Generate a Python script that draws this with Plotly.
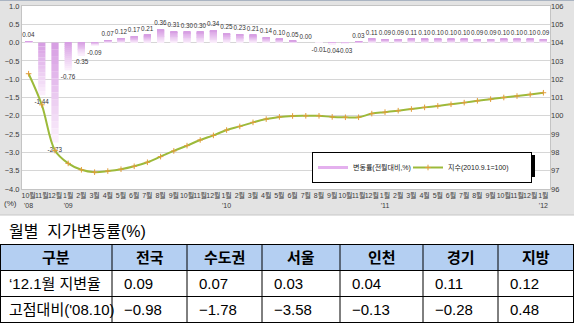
import plotly.graph_objects as go

W, H = 574, 325
FONT = "Liberation Sans, Noto Sans CJK KR, sans-serif"
KFONT = "Liberation Sans, Noto Sans CJK KR, sans-serif"

# ---- monthly land price data, Oct 2008 - Jan 2012 ----
month_keys = [
    "2008-10", "2008-11", "2008-12",
    "2009-01", "2009-02", "2009-03", "2009-04", "2009-05", "2009-06",
    "2009-07", "2009-08", "2009-09", "2009-10", "2009-11", "2009-12",
    "2010-01", "2010-02", "2010-03", "2010-04", "2010-05", "2010-06",
    "2010-07", "2010-08", "2010-09", "2010-10", "2010-11", "2010-12",
    "2011-01", "2011-02", "2011-03", "2011-04", "2011-05", "2011-06",
    "2011-07", "2011-08", "2011-09", "2011-10", "2011-11", "2011-12",
    "2012-01",
]
tick_labels = [
    "10월<br>'08", "11월", "12월",
    "1월<br>'09", "2월", "3월", "4월", "5월", "6월",
    "7월", "8월", "9월", "10월", "11월", "12월",
    "1월<br>'10", "2월", "3월", "4월", "5월", "6월",
    "7월", "8월", "9월", "10월", "11월", "12월",
    "1월<br>'11", "2월", "3월", "4월", "5월", "6월",
    "7월", "8월", "9월", "10월", "11월", "12월",
    "1월<br>'12",
]
# month-on-month change (%)
change_pct = [
    0.04, -1.44, -2.73, -0.76, -0.35, -0.09, 0.07, 0.12, 0.17, 0.21,
    0.36, 0.31, 0.30, 0.30, 0.34, 0.25, 0.23, 0.21, 0.14, 0.10,
    0.05, 0.00, -0.01, -0.04, -0.03, 0.03, 0.11, 0.09, 0.09, 0.11,
    0.10, 0.10, 0.10, 0.10, 0.09, 0.09, 0.10, 0.10, 0.10, 0.09,
]
# land price index (2010.9.1 = 100)
price_index = [
    102.30, 100.60, 98.10, 97.40, 97.05, 96.92, 96.98, 97.08, 97.24, 97.46,
    97.77, 98.08, 98.37, 98.68, 98.93, 99.22, 99.42, 99.64, 99.82, 99.94,
    99.99, 100.00, 100.00, 99.94, 99.92, 99.92, 100.12, 100.20, 100.28, 100.37,
    100.46, 100.54, 100.63, 100.72, 100.82, 100.91, 101.00, 101.08, 101.17, 101.26,
]

# ---- summary table ----
table_header = ["구분", "전국", "수도권", "서울", "인천", "경기", "지방"]
row_labels = ["‘12.1월 지변율", "고점대비('08.10)"]
jan12_change = [0.09, 0.07, 0.03, 0.04, 0.11, 0.12]
vs_peak = [-0.98, -1.78, -3.58, -0.13, -0.28, 0.48]

# table geometry (pixels)
COL_W = [112, 75, 75, 78, 83, 75, 76]
TABLE_TOP = 244
ROW_H = 26


def px(x):
    return x / W


def py(y):
    return 1 - y / H


def fmt(v):
    return f"{v:.2f}".replace("-", "−")


def mix(c1, c2, t):
    r, g, b = (round(a + (b_ - a) * t) for a, b_ in zip(c1, c2))
    return f"rgb({r},{g},{b})"


BAR_TOP = (214, 156, 226)
BAR_BOTTOM = (252, 241, 253)

fig = go.Figure()

# gradient bars: each bar is split into slices shaded from top to bottom
N = 14
for k in range(N):
    bases = [v * k / N for v in change_pct]
    seg = [v / N for v in change_pct]
    colors = []
    for v in change_pct:
        t = (k + 0.5) / N if v < 0 else 1 - (k + 0.5) / N
        colors.append(mix(BAR_TOP, BAR_BOTTOM, t))
    fig.add_trace(go.Bar(
        x=month_keys, y=seg, base=bases,
        marker=dict(color=colors, line=dict(width=0)),
        showlegend=False, hoverinfo="skip",
    ))

# value labels for the bars
fig.add_trace(go.Bar(
    x=month_keys, y=change_pct,
    marker=dict(color="rgba(0,0,0,0)", line=dict(width=0)),
    text=[f"{v:.2f}" for v in change_pct],
    textposition="outside", constraintext="none", cliponaxis=False,
    textfont=dict(size=6.3, color="#333333", family=FONT),
    showlegend=False, hoverinfo="skip",
))

# legend entry for the change series
fig.add_trace(go.Scatter(
    x=[month_keys[0]], y=[None], mode="lines",
    line=dict(color="#e4b0ee", width=3),
    name="변동률(전월대비,%)", legendwidth=50,
))

# price index line on the right axis
fig.add_trace(go.Scatter(
    x=month_keys, y=price_index, yaxis="y2",
    mode="lines+markers",
    line=dict(color="#9cba3a", width=2, shape="spline"),
    marker=dict(symbol="cross-thin", size=4, line=dict(color="#e39c3a", width=1)),
    name="지수(2010.9.1=100)", legendwidth=78,
))

# ---- table drawn with shapes and annotations ----
col_x = [0]
for w in COL_W:
    col_x.append(col_x[-1] + w)
row_y = [TABLE_TOP + i * ROW_H for i in range(4)]

shapes = [
    # white area under the chart panel
    dict(type="rect", xref="paper", yref="paper", x0=0, x1=1, y0=0, y1=py(215),
         fillcolor="white", line=dict(width=0), layer="below"),
    dict(type="line", xref="paper", yref="paper", x0=0, x1=1, y0=py(215), y1=py(215),
         line=dict(color="#c6c6c6", width=1), layer="below"),
    dict(type="line", xref="paper", yref="paper", x0=0, x1=1, y0=py(0.5), y1=py(0.5),
         line=dict(color="#aab4c2", width=1), layer="below"),
    # legend drop shadow
    dict(type="rect", xref="paper", yref="paper",
         x0=px(315), x1=px(535), y0=py(177), y1=py(155),
         fillcolor="black", line=dict(width=0), layer="above"),
    # table header fill
    dict(type="rect", xref="paper", yref="paper",
         x0=0, x1=1, y0=py(row_y[1]), y1=py(row_y[0]),
         fillcolor="#b4cff2", line=dict(width=0), layer="above"),
]
for yy in row_y:
    shapes.append(dict(type="line", xref="paper", yref="paper",
                       x0=0, x1=1, y0=py(yy + 0.5), y1=py(yy + 0.5),
                       line=dict(color="black", width=1), layer="above"))
for xx in col_x:
    xx = min(max(xx, 0.5), W - 0.5)
    shapes.append(dict(type="line", xref="paper", yref="paper",
                       x0=px(xx), x1=px(xx), y0=py(row_y[0]), y1=py(row_y[-1] + 1),
                       line=dict(color="black", width=1), layer="above"))

annotations = [
    dict(text="(%)", xref="paper", yref="paper", x=px(2), y=py(203),
         xanchor="left", yanchor="middle", showarrow=False,
         font=dict(size=8, color="#3a3a3a", family=FONT)),
    dict(text="월별  지가변동률(%)", xref="paper", yref="paper", x=px(7), y=py(231),
         xanchor="left", yanchor="middle", showarrow=False,
         font=dict(size=16, color="black", family=KFONT)),
]
for j, h in enumerate(table_header):
    annotations.append(dict(
        text=f"<b>{h}</b>", xref="paper", yref="paper",
        x=px((col_x[j] + col_x[j + 1]) / 2), y=py(row_y[0] + ROW_H / 2),
        xanchor="center", yanchor="middle", showarrow=False,
        font=dict(size=15, color="black", family=KFONT)))
rows = [[row_labels[0]] + [fmt(v) for v in jan12_change],
        [row_labels[1]] + [fmt(v) for v in vs_peak]]
for r, row in enumerate(rows):
    for j, cell in enumerate(row):
        annotations.append(dict(
            text=cell, xref="paper", yref="paper",
            x=px(col_x[j] + (7 if j == 0 else 10)), y=py(row_y[r + 1] + ROW_H / 2),
            xanchor="left", yanchor="middle", showarrow=False,
            font=dict(size=15, color="black", family=KFONT)))

axis_font = dict(size=7.5, color="#3a3a3a", family=FONT)

fig.update_layout(
    width=W, height=H,
    margin=dict(l=0, r=0, t=0, b=0, autoexpand=False),
    paper_bgcolor="#e3e3e3", plot_bgcolor="white",
    barmode="overlay", bargap=0.45,
    font=dict(family=FONT),
    xaxis=dict(
        domain=[px(22), px(550)], type="category", automargin=False,
        range=[-0.5, len(month_keys) - 0.5], autorange=False,
        tickmode="array", tickvals=month_keys, ticktext=tick_labels,
        tickangle=0, tickfont=dict(size=7, color="#3a3a3a", family=FONT), ticks="",
        showgrid=False, showline=True, linecolor="#c4c4c4", mirror=True,
    ),
    yaxis=dict(
        domain=[py(189), py(6)], range=[-4, 1], dtick=0.5, tick0=0,
        automargin=False, tickformat=".1f", tickfont=axis_font, ticks="",
        gridcolor="#d6d6d6", zeroline=False,
        showline=True, linecolor="#c4c4c4", mirror=True,
    ),
    yaxis2=dict(
        overlaying="y", side="right", range=[96, 106], dtick=1, automargin=False,
        tickfont=axis_font, ticks="", showgrid=False, zeroline=False,
    ),
    legend=dict(
        orientation="h", x=px(312), y=py(152), xanchor="left", yanchor="top",
        bgcolor="white", bordercolor="black", borderwidth=1,
        font=dict(size=7, color="#222222", family=FONT),
        itemwidth=30,
    ),
    shapes=shapes,
    annotations=annotations,
)

fig.write_html("out.html")
